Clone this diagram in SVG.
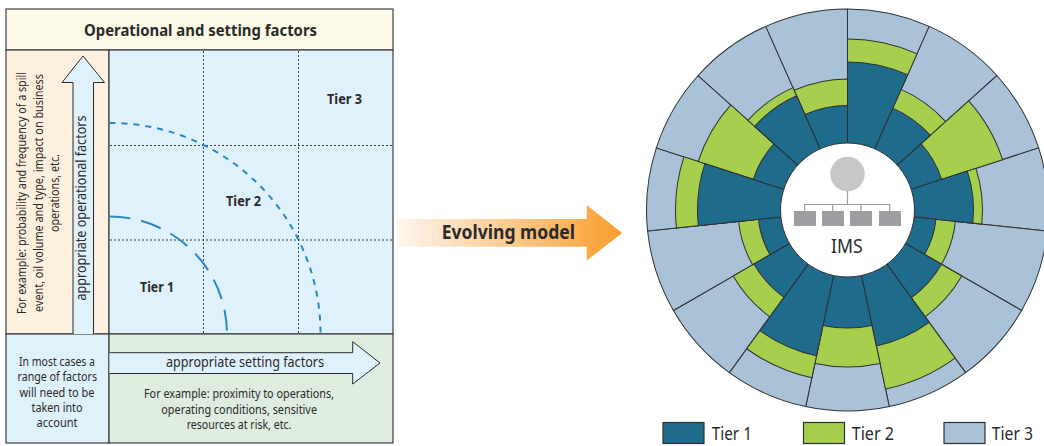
<svg xmlns="http://www.w3.org/2000/svg" width="1044" height="446" viewBox="0 0 1044 446">
<style>
text{font-family:"Noto Sans","Open Sans","Liberation Sans",sans-serif;fill:#2b2a2b;font-size:12px}
.b{font-weight:700}
.p{stroke:#3d3f42;stroke-width:1.2}
.g{fill:none;stroke:#3a3f45;stroke-width:1;stroke-dasharray:2 2}
.ar{fill:#dff1fb;stroke:#2b2a2b;stroke-width:1}
.t1{fill:#1f6b8c}.t2{fill:#a5cf4c}.t3{fill:#aac2d7}
.w path,.lg{stroke:#2f3033;stroke-width:1;stroke-linejoin:miter}
.lg{stroke-width:1.2}
.o{fill:none;stroke:#9d9ea2;stroke-width:1.2}
.s{fill:#9d9ea2}
</style>
<defs>
<linearGradient id="evo" gradientUnits="userSpaceOnUse" x1="396" y1="0" x2="622" y2="0">
<stop offset="0" stop-color="#fff8f0"/><stop offset="0.15" stop-color="#fee9d3"/><stop offset="1" stop-color="#f99d2c"/>
</linearGradient>
</defs>

<g id="matrix-panel">
<rect id="title-band" class="p" x="6" y="9" width="387" height="41" fill="#fefbe8"/>
<rect id="operational-col" class="p" x="6" y="50" width="103" height="284" fill="#fdf0de"/>
<rect id="matrix" class="p" x="109" y="50" width="284" height="284" fill="#dff1fb"/>
<rect id="note-cell" class="p" x="6" y="334" width="103" height="109" fill="#dff1fb"/>
<rect id="setting-cell" class="p" x="109" y="334" width="284" height="109" fill="#dfece0"/>
<text class="b" x="84" y="36" style="font-size:16px" textLength="233" lengthAdjust="spacingAndGlyphs">Operational and setting factors</text>
</g>

<g id="connectors">
<path class="g" d="M203.500 51V334M298.500 51V334M110 145.500H393M110 240H393"/>
<path d="M109.500 123A210.500 210.500 0 0 1 320.500 334" fill="none" stroke="#2a87c3" stroke-width="2" stroke-dasharray="6 6"/>
<path d="M109.500 216.500A117.500 117.500 0 0 1 227 334" fill="none" stroke="#2a87c3" stroke-width="2" stroke-dasharray="21 11"/>
<path class="ar" d="M73 334V82.500H62L83 56L104.500 82.500H93.500V334"/>
<path class="ar" d="M109.500 352.700H352.700V341.700L380 363L352.700 384V373.500H109.500"/>
<path d="M396 219H586.700V205L622 233L586.700 260.700V246.700H396Z" fill="url(#evo)"/>
</g>

<g id="matrix-labels">
<text class="b" x="327" y="104" style="font-size:14px" textLength="35" lengthAdjust="spacingAndGlyphs">Tier 3</text>
<text class="b" x="226" y="206" style="font-size:14px" textLength="35" lengthAdjust="spacingAndGlyphs">Tier 2</text>
<text class="b" x="140" y="292" style="font-size:14px" textLength="34" lengthAdjust="spacingAndGlyphs">Tier 1</text>
<text transform="translate(26 314) rotate(-90)" textLength="242" lengthAdjust="spacingAndGlyphs">For example: probability and frequency of a spill</text>
<text transform="translate(43 312) rotate(-90)" textLength="238" lengthAdjust="spacingAndGlyphs">event, oil volume and type, impact on business</text>
<text transform="translate(59 232) rotate(-90)" textLength="78" lengthAdjust="spacingAndGlyphs">operations, etc.</text>
<text transform="translate(86 300.500) rotate(-90)" style="font-size:13.500px" textLength="185" lengthAdjust="spacingAndGlyphs">appropriate operational factors</text>
<text x="166" y="367" style="font-size:13.500px" textLength="158" lengthAdjust="spacingAndGlyphs">appropriate setting factors</text>
<text x="19" y="365.700" textLength="76" lengthAdjust="spacingAndGlyphs">In most cases a</text>
<text x="17.500" y="381" textLength="79.500" lengthAdjust="spacingAndGlyphs">range of factors</text>
<text x="19.500" y="396.700" textLength="75" lengthAdjust="spacingAndGlyphs">will need to be</text>
<text x="31.500" y="411.700" textLength="51" lengthAdjust="spacingAndGlyphs">taken into</text>
<text x="36.500" y="426.700" textLength="41" lengthAdjust="spacingAndGlyphs">account</text>
<text x="144" y="397.700" textLength="190" lengthAdjust="spacingAndGlyphs">For example: proximity to operations,</text>
<text x="161.300" y="413.700" textLength="155.700" lengthAdjust="spacingAndGlyphs">operating conditions, sensitive</text>
<text x="186.700" y="429" textLength="104.700" lengthAdjust="spacingAndGlyphs">resources at risk, etc.</text>
</g>

<text id="evolving-label" class="b" x="441.700" y="239" style="font-size:19.500px" textLength="133.300" lengthAdjust="spacingAndGlyphs">Evolving model</text>

<g id="tier-wheel" class="w">
<g id="tier3-ring" class="t3">
<path transform="translate(847.500 210) rotate(0)" d="M0 0V-201A201 201 0 0 1 81.750 -183.620Z"/>
<path transform="translate(847.500 210) rotate(24)" d="M0 0V-201A201 201 0 0 1 81.750 -183.620Z"/>
<path transform="translate(847.500 210) rotate(48)" d="M0 0V-201A201 201 0 0 1 81.750 -183.620Z"/>
<path transform="translate(847.500 210) rotate(72)" d="M0 0V-201A201 201 0 0 1 81.750 -183.620Z"/>
<path transform="translate(847.500 210) rotate(96)" d="M0 0V-201A201 201 0 0 1 81.750 -183.620Z"/>
<path transform="translate(847.500 210) rotate(120)" d="M0 0V-201A201 201 0 0 1 81.750 -183.620Z"/>
<path transform="translate(847.500 210) rotate(144)" d="M0 0V-201A201 201 0 0 1 81.750 -183.620Z"/>
<path transform="translate(847.500 210) rotate(168)" d="M0 0V-201A201 201 0 0 1 81.750 -183.620Z"/>
<path transform="translate(847.500 210) rotate(192)" d="M0 0V-201A201 201 0 0 1 81.750 -183.620Z"/>
<path transform="translate(847.500 210) rotate(216)" d="M0 0V-201A201 201 0 0 1 81.750 -183.620Z"/>
<path transform="translate(847.500 210) rotate(240)" d="M0 0V-201A201 201 0 0 1 81.750 -183.620Z"/>
<path transform="translate(847.500 210) rotate(264)" d="M0 0V-201A201 201 0 0 1 81.750 -183.620Z"/>
<path transform="translate(847.500 210) rotate(288)" d="M0 0V-201A201 201 0 0 1 81.750 -183.620Z"/>
<path transform="translate(847.500 210) rotate(312)" d="M0 0V-201A201 201 0 0 1 81.750 -183.620Z"/>
<path transform="translate(847.500 210) rotate(336)" d="M0 0V-201A201 201 0 0 1 81.750 -183.620Z"/>
</g>
<g id="tier2-ring" class="t2">
<path transform="translate(847.500 210) rotate(0)" d="M0 0V-171A171 171 0 0 1 69.550 -156.220Z"/>
<path transform="translate(847.500 210) rotate(24)" d="M0 0V-132A132 132 0 0 1 53.690 -120.590Z"/>
<path transform="translate(847.500 210) rotate(48)" d="M0 0V-163A163 163 0 0 1 66.300 -148.910Z"/>
<path transform="translate(847.500 210) rotate(72)" d="M0 0V-135A135 135 0 0 1 54.910 -123.330Z"/>
<path transform="translate(847.500 210) rotate(96)" d="M0 0V-108.500A108.500 108.500 0 0 1 44.130 -99.120Z"/>
<path transform="translate(847.500 210) rotate(120)" d="M0 0V-132A132 132 0 0 1 53.690 -120.590Z"/>
<path transform="translate(847.500 210) rotate(144)" d="M0 0V-183A183 183 0 0 1 74.430 -167.180Z"/>
<path transform="translate(847.500 210) rotate(168)" d="M0 0V-157A157 157 0 0 1 63.860 -143.430Z"/>
<path transform="translate(847.500 210) rotate(192)" d="M0 0V-171.500A171.500 171.500 0 0 1 69.760 -156.670Z"/>
<path transform="translate(847.500 210) rotate(216)" d="M0 0V-132A132 132 0 0 1 53.690 -120.590Z"/>
<path transform="translate(847.500 210) rotate(240)" d="M0 0V-109.500A109.500 109.500 0 0 1 44.540 -100.030Z"/>
<path transform="translate(847.500 210) rotate(264)" d="M0 0V-172A172 172 0 0 1 69.960 -157.130Z"/>
<path transform="translate(847.500 210) rotate(288)" d="M0 0V-157A157 157 0 0 1 63.860 -143.430Z"/>
<path transform="translate(847.500 210) rotate(312)" d="M0 0V-134A134 134 0 0 1 54.500 -122.420Z"/>
<path transform="translate(847.500 210) rotate(336)" d="M0 0V-131A131 131 0 0 1 53.280 -119.680Z"/>
</g>
<g id="tier1-ring" class="t1">
<path transform="translate(847.500 210) rotate(0)" d="M0 0V-148A148 148 0 0 1 60.200 -135.210Z"/>
<path transform="translate(847.500 210) rotate(24)" d="M0 0V-111.500A111.500 111.500 0 0 1 45.350 -101.860Z"/>
<path transform="translate(847.500 210) rotate(48)" d="M0 0V-99A99 99 0 0 1 40.270 -90.440Z"/>
<path transform="translate(847.500 210) rotate(72)" d="M0 0V-126A126 126 0 0 1 51.250 -115.110Z"/>
<path transform="translate(847.500 210) rotate(96)" d="M0 0V-89A89 89 0 0 1 36.200 -81.310Z"/>
<path transform="translate(847.500 210) rotate(120)" d="M0 0V-108.500A108.500 108.500 0 0 1 44.130 -99.120Z"/>
<path transform="translate(847.500 210) rotate(144)" d="M0 0V-139A139 139 0 0 1 56.540 -126.980Z"/>
<path transform="translate(847.500 210) rotate(168)" d="M0 0V-118A118 118 0 0 1 48 -107.800Z"/>
<path transform="translate(847.500 210) rotate(192)" d="M0 0V-149A149 149 0 0 1 60.600 -136.120Z"/>
<path transform="translate(847.500 210) rotate(216)" d="M0 0V-108A108 108 0 0 1 43.930 -98.660Z"/>
<path transform="translate(847.500 210) rotate(240)" d="M0 0V-89.500A89.500 89.500 0 0 1 36.400 -81.760Z"/>
<path transform="translate(847.500 210) rotate(264)" d="M0 0V-150A150 150 0 0 1 61.010 -137.030Z"/>
<path transform="translate(847.500 210) rotate(288)" d="M0 0V-99A99 99 0 0 1 40.270 -90.440Z"/>
<path transform="translate(847.500 210) rotate(312)" d="M0 0V-125A125 125 0 0 1 50.840 -114.190Z"/>
<path transform="translate(847.500 210) rotate(336)" d="M0 0V-104.500A104.500 104.500 0 0 1 42.500 -95.470Z"/>
</g>
</g>

<g id="ims-hub">
<circle cx="847.500" cy="210" r="67" fill="#fff" stroke="#2f3033" stroke-width="1"/>
<circle cx="847.500" cy="174" r="17.300" fill="#c6c7c9"/>
<path class="o" d="M847.500 191V204.500M804.700 211V204.500H889.700V211M832.700 204.500V211M861 204.500V211"/>
<rect class="s" x="794" y="211" width="22" height="15"/>
<rect class="s" x="822" y="211" width="22" height="15"/>
<rect class="s" x="850" y="211" width="22" height="15"/>
<rect class="s" x="879" y="211" width="22" height="15"/>
<text x="831" y="252.700" style="font-size:20px" textLength="31.700" lengthAdjust="spacingAndGlyphs">IMS</text>
</g>

<g id="legend">
<g id="legend-tier1"><rect class="lg t1" x="663" y="422.500" width="41" height="21"/><text x="711.700" y="440" style="font-size:17.500px" textLength="40.300" lengthAdjust="spacingAndGlyphs">Tier 1</text></g>
<g id="legend-tier2"><rect class="lg t2" x="803.500" y="422.500" width="41" height="21"/><text x="851.700" y="440" style="font-size:17.500px" textLength="42.300" lengthAdjust="spacingAndGlyphs">Tier 2</text></g>
<g id="legend-tier3"><rect class="lg t3" x="944" y="422.500" width="41" height="21"/><text x="991.700" y="440" style="font-size:17.500px" textLength="41.300" lengthAdjust="spacingAndGlyphs">Tier 3</text></g>
</g>
</svg>
